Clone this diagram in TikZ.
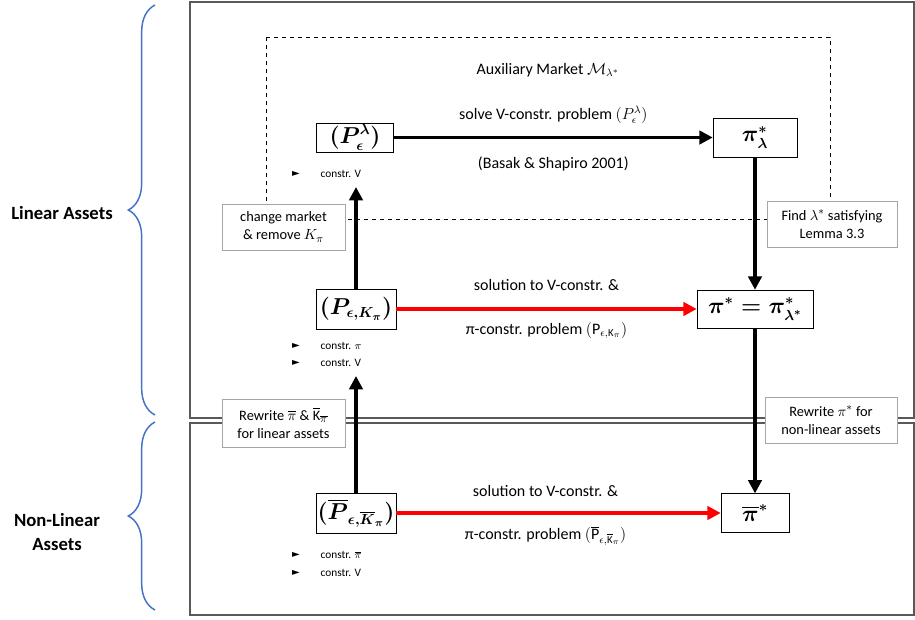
\documentclass[tikz,border=0pt]{standalone}
\usepackage{amsmath}
\usepackage{fontspec}
\setmainfont{Carlito}
\newfontfamily\symfont{DejaVu Sans}
\usetikzlibrary{arrows.meta,decorations.pathreplacing}

\definecolor{bracecol}{HTML}{4472C4}
\definecolor{framecol}{HTML}{595959}
\definecolor{notecol}{HTML}{A6A6A6}

\tikzset{
    mainbox/.style={draw, fill=white, inner sep=1pt, font=\fontsize{16}{19}\selectfont\boldmath},
    notebox/.style={draw=notecol, fill=white, align=center, inner sep=2pt, font=\fontsize{10.8}{13.5}\selectfont},
    flow/.style={-{Triangle[length=10pt,width=10pt]}, line width=2.6pt},
    redflow/.style={flow, red},
    flowtext/.style={font=\fontsize{12}{14}\selectfont},
    bullettext/.style={anchor=west, font=\fontsize{8.5}{10}\selectfont},
    bracemark/.style={decorate, decoration={brace, amplitude=20pt}, draw=bracecol, line width=1.1pt},
}

\begin{document}
\begin{tikzpicture}[x=0.75pt, y=-0.75pt]
        \useasboundingbox (0,0) rectangle (915,619);

        % Draw outer frames
        \draw[framecol, line width=0.9pt] (190,2) rectangle (914,418);
        \draw[framecol, line width=0.9pt] (190,423) rectangle (914,615);

        % Draw auxiliary market area
        \draw[dashed, line width=0.5pt] (266,37) rectangle (830,219);
        \node[flowtext] (aux) at (548,70) {Auxiliary Market $\mathcal{M}_{\lambda^*}$};

        % Draw braces and their labels
        \draw[bracemark] (155,415) -- (155,5);
        \draw[bracemark] (155,610) -- (155,422);
        \node[font=\fontsize{14}{17}\selectfont\bfseries] (lin) at (62,213) {Linear Assets};
        \node[font=\fontsize{14}{18}\selectfont\bfseries, align=center] (nonlin) at (57,532) {Non-Linear\\Assets};

        % Draw problems (left) and solutions (right)
        \node[mainbox, minimum width=58pt, minimum height=22pt] (pl) at (355,137.5) {$(P^{\lambda}_{\epsilon})$};
        \node[mainbox, minimum width=63pt, minimum height=29pt] (pil) at (755,137.5) {$\pi^*_{\lambda}$};
        \node[mainbox, minimum width=60pt, minimum height=30pt] (pek) at (356,309) {$(P_{\epsilon,K_\pi})$};
        \node[mainbox, minimum width=87pt, minimum height=28.5pt] (pis) at (755,309) {$\pi^* = \pi^*_{\lambda^*}$};
        \node[mainbox, minimum width=60pt, minimum height=30pt] (pbar) at (356,513) {$(\overline{P}_{\epsilon,\overline{K}_\pi})$};
        \node[mainbox, minimum width=51pt, minimum height=29pt] (pibar) at (755,513) {$\overline{\pi}^*$};

        % Draw constraint lists
        \foreach \y/\txt in {174/constr. V, 346/constr. $\pi$, 363/constr. V, 555/constr. $\overline{\pi}$, 573/constr. V} {
            \node[font=\symfont\fontsize{7.5}{8}\selectfont] (tri\y) at (296,\y) {►};
            \node[bullettext] (item\y) at (316,\y) {\txt};
        }

        % Arrow ends below the constraint lists
        \coordinate (endup) at (356,187);
        \coordinate (endmid) at (356,376);

        % Draw connectors
        \draw[flow] (pl) -- (pil)
            node[flowtext, midway, yshift=17pt] (solvetext) {solve V-constr. problem $(P^{\lambda}_{\epsilon})$}
            node[flowtext, midway, yshift=-19.5pt] (basak) {(Basak \& Shapiro 2001)};
        \draw[flow] (pek) -- (endup);
        \draw[flow] (pbar) -- (endmid);
        \draw[flow] (pil) -- (pis);
        \draw[flow] (pis) -- (pibar);
        \draw[redflow] (pek) -- (pis)
            node[flowtext, midway, yshift=18pt, black] (soltext) {solution to V-constr. \&}
            node[flowtext, midway, yshift=-16pt, black] (probtext) {π-constr. problem $(\mathrm{P}_{\epsilon,\mathrm{K}_\pi})$};
        \draw[redflow] (pbar) -- (pibar)
            node[flowtext, pos=0.46, yshift=16.5pt, black] (solbartext) {solution to V-constr. \&}
            node[flowtext, pos=0.46, yshift=-17pt, black] (probbartext) {π-constr. problem $(\overline{\mathrm{P}}_{\epsilon,\overline{\mathrm{K}}_\pi})$};

        % Draw notes
        \node[notebox, minimum width=92pt, minimum height=34.5pt] (change) at (283.5,227) {change market\\\& remove $K_\pi$};
        \node[notebox, minimum width=97.5pt, minimum height=34.5pt] (find) at (832,224) {Find $\lambda^*$ satisfying\\Lemma 3.3};
        \node[notebox, minimum width=92pt, minimum height=36pt] (rewlin) at (283.5,423) {Rewrite $\overline{\pi}$ \& $\overline{\mathrm{K}}_{\overline{\pi}}$\\for linear assets};
        \node[notebox, minimum width=99pt, minimum height=34.5pt] (rewnonlin) at (831,420) {Rewrite $\pi^*$ for\\non-linear assets};
    \end{tikzpicture}
\end{document}
